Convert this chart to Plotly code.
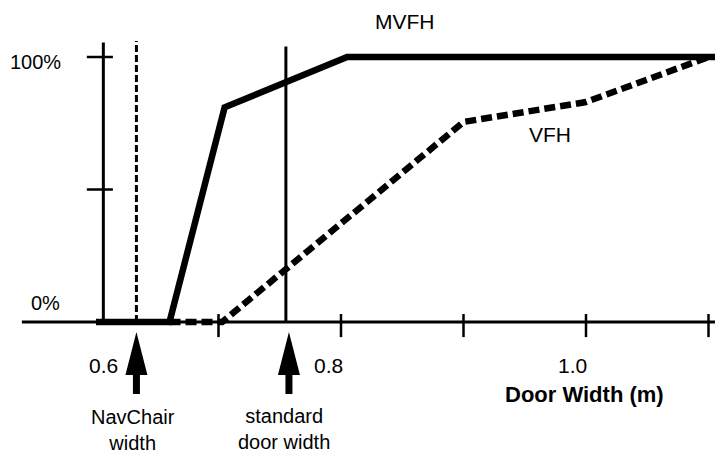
import plotly.graph_objects as go

# ---- data ----
mvfh_x = [0.6, 0.66, 0.705, 0.805, 1.11]
mvfh_y = [0, 0, 81, 100, 100]
vfh_x = [0.66, 0.703, 0.9, 1.0, 1.1]
vfh_y = [0, 0, 75.5, 83, 100]
x_ticks = [0.7, 0.8, 0.9, 1.0, 1.1]
x_tick_labels = {0.6: "0.6", 0.8: "0.8", 1.0: "1.0"}
y_ticks = [50, 100]
navchair_width = 0.633
standard_door_width = 0.755
yaxis_pos = 0.606

FONT = "Liberation Sans, Arial, sans-serif"
W, H = 723, 461
OFF = 8  # page body margin
FW, FH = W - OFF, H - OFF

fig = go.Figure()

# curves
fig.add_trace(go.Scatter(x=vfh_x, y=vfh_y, mode="lines",
                         line=dict(color="black", width=6.5, dash="11px,5px"),
                         hoverinfo="skip", showlegend=False))
fig.add_trace(go.Scatter(x=mvfh_x, y=mvfh_y, mode="lines",
                         line=dict(color="black", width=6.5),
                         hoverinfo="skip", showlegend=False))

shapes = []
# x axis line
shapes.append(dict(type="line", xref="x", yref="y", x0=0.5395, x1=1.112, y0=0, y1=0,
                   line=dict(color="black", width=3)))
# y axis line
shapes.append(dict(type="line", xref="x", yref="y", x0=yaxis_pos, x1=yaxis_pos, y0=0, y1=105.5,
                   line=dict(color="black", width=3)))
# x tick marks
for t in x_ticks:
    shapes.append(dict(type="line", xref="x", yref="y", x0=t, x1=t, y0=-5.7, y1=3,
                       line=dict(color="black", width=2.5)))
# y tick marks
for t in y_ticks:
    shapes.append(dict(type="line", xref="x", yref="y", x0=0.5925, x1=0.6138, y0=t, y1=t,
                       line=dict(color="black", width=2.5)))
# NavChair width dashed line
shapes.append(dict(type="line", xref="x", yref="y", x0=navchair_width, x1=navchair_width,
                   y0=0, y1=106, line=dict(color="black", width=3, dash="7px,3px")))
# standard door width line
shapes.append(dict(type="line", xref="x", yref="y", x0=standard_door_width, x1=standard_door_width,
                   y0=0, y1=104, line=dict(color="black", width=3)))
# arrows (pixel-sized, anchored at data positions)
arrow_path = "M 0 -10 L 11 -53 L 3.5 -53 L 3.5 -72 L -3.5 -72 L -3.5 -53 L -11 -53 Z"
for xa in (navchair_width, standard_door_width + 0.0025):
    shapes.append(dict(type="path", xref="x", yref="y", xsizemode="pixel", ysizemode="pixel",
                       xanchor=xa, yanchor=0, path=arrow_path,
                       fillcolor="black", line=dict(color="black", width=0)))

ann = []
def txt(x, y, s, size=21, bold=False, xref="x", yref="y", xshift=0, yshift=0):
    ann.append(dict(x=x, y=y, xref=xref, yref=yref, text=("<b>%s</b>" % s) if bold else s,
                    showarrow=False, xshift=xshift, yshift=yshift,
                    font=dict(family=FONT, size=size, color="black"),
                    xanchor="center", yanchor="middle", borderpad=0))

# tick labels
shifts = {0.6: 7, 0.8: -13, 1.0: -14}
for v, lab in x_tick_labels.items():
    txt(v, 0, lab, xshift=shifts[v], yshift=-43)
txt((35 - OFF) / FW, 100, "100%", size=20, xref="paper", yshift=-5)
txt((45 - OFF) / FW, 0, "0%", size=20, xref="paper", yshift=19)
txt(1.0, 0, "Door Width (m)", size=22, bold=True, xshift=-2, yshift=-72)
# series labels
txt(0.852, 113.5, "MVFH")
txt(0.9706, 70.9, "VFH")
# arrow captions
txt(navchair_width, 0, "NavChair<br>width", size=20, xshift=-3, yshift=-108)
txt(standard_door_width, 0, "standard<br>door width", size=20, xshift=-2, yshift=-107)

# pixel mapping (screenshot pixels): x=0.8 at 341, 1225 px per unit; y=0 at 322, 2.65 px per %
px_per_x = 1225.0
px_per_y = 2.65
x0 = 0.8 - (341 - OFF) / px_per_x
x1 = x0 + FW / px_per_x
y0 = -(H - 322) / px_per_y
y1 = (322 - OFF) / px_per_y

fig.update_layout(
    width=FW, height=FH,
    margin=dict(l=0, r=0, t=0, b=0),
    paper_bgcolor="white", plot_bgcolor="white",
    xaxis=dict(range=[x0, x1], visible=False, fixedrange=True),
    yaxis=dict(range=[y0, y1], visible=False, fixedrange=True),
    shapes=shapes, annotations=ann, showlegend=False,
)

fig.write_html("out.html")
